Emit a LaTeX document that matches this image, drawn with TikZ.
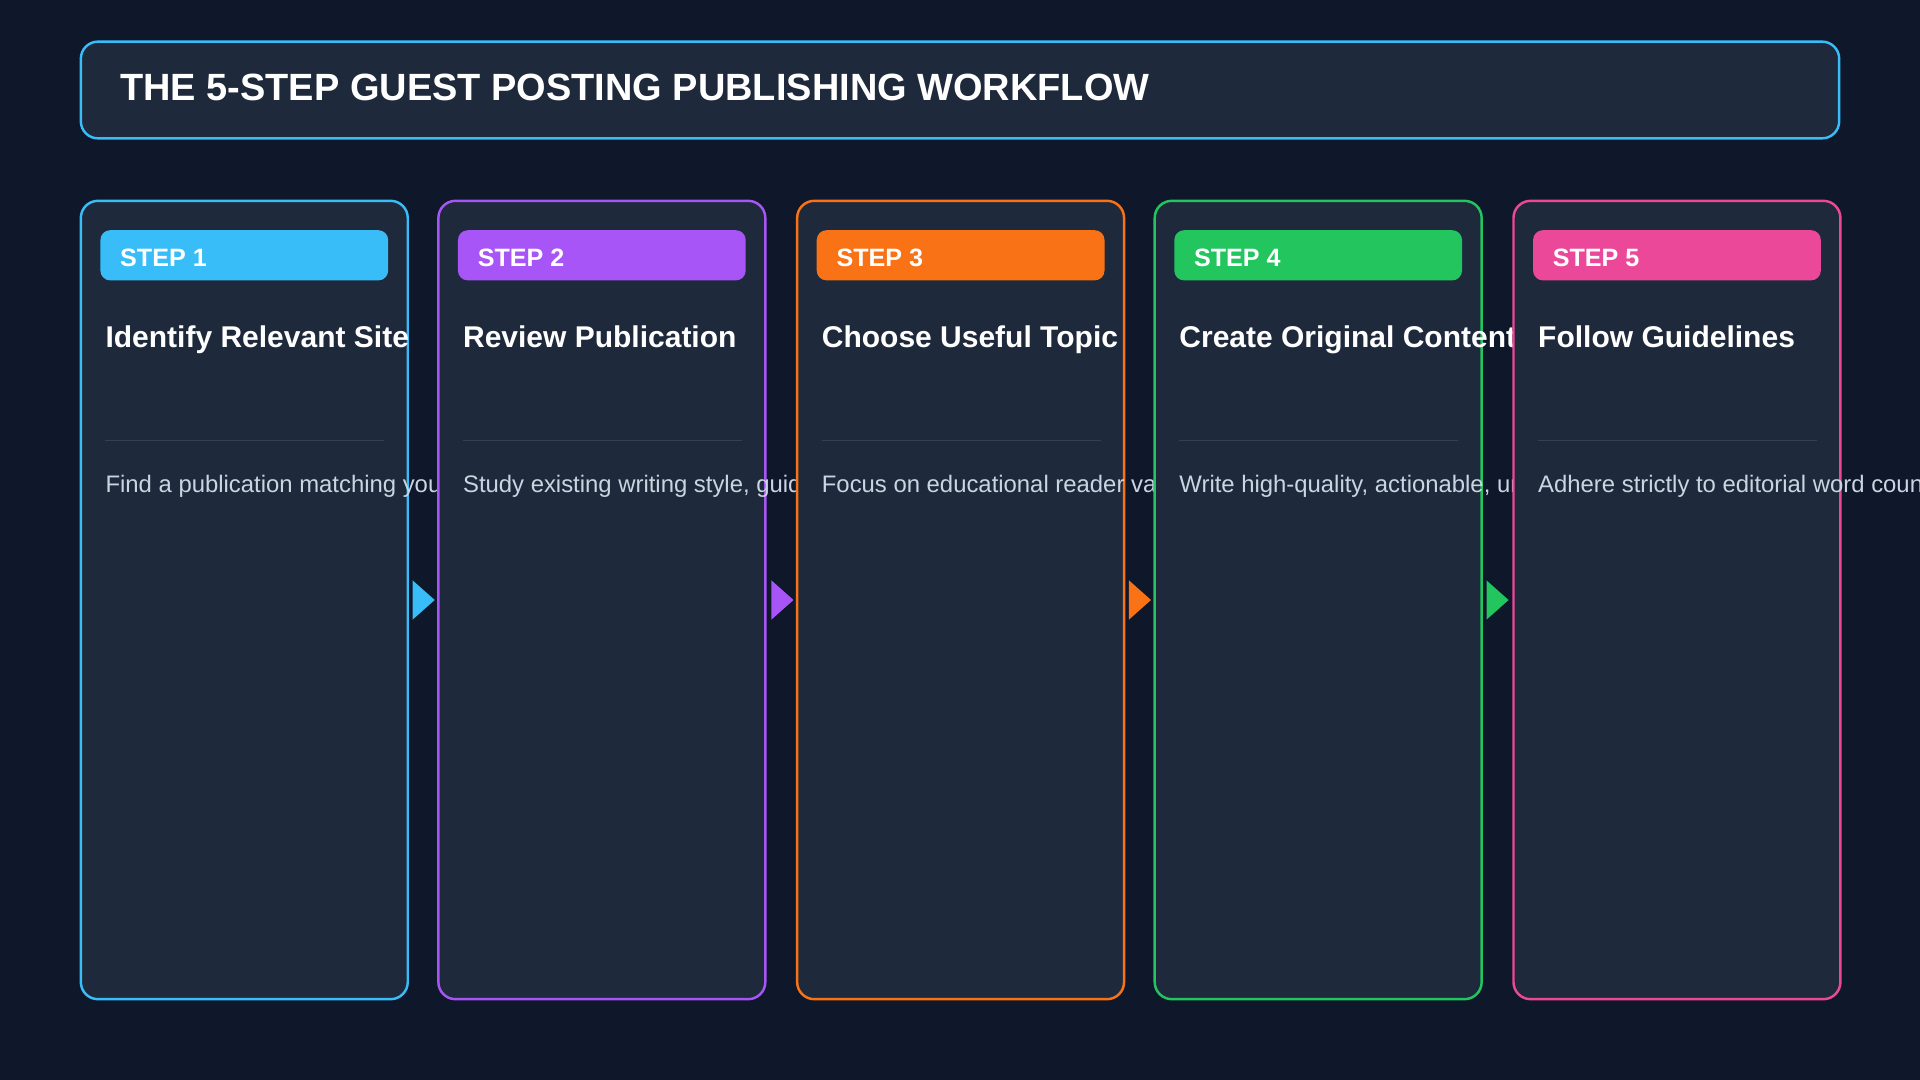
\documentclass[tikz,border=0pt]{standalone}
\usepackage{fontspec}
\setmainfont{Liberation Sans}
\definecolor{bg}{HTML}{0F172A}
\definecolor{panel}{HTML}{1E293B}
\definecolor{divc}{HTML}{334155}
\definecolor{desc}{HTML}{CBD5E1}
\definecolor{cA}{HTML}{38BDF8}
\definecolor{cB}{HTML}{A855F7}
\definecolor{cC}{HTML}{F97316}
\definecolor{cD}{HTML}{22C55E}
\definecolor{cE}{HTML}{EC4899}
\begin{document}
\begin{tikzpicture}[x={(1pt,0)},y={(0,-1pt)},
  card/.style={draw=#1,line width=2pt,fill=panel,rounded corners=14pt},
  badge/.style={fill=#1,rounded corners=8pt},
  lbl/.style={anchor=base west,inner sep=0,text=white,font=\fontsize{20.5}{22}\selectfont\bfseries},
  head/.style={anchor=base west,inner sep=0,text=white,font=\fontsize{24.5}{26}\selectfont\bfseries},
  dsc/.style={anchor=base west,inner sep=0,text=desc,font=\fontsize{19.5}{22}\selectfont}]
\fill[bg] (0,0) rectangle (1568,882);
\useasboundingbox (0,0) rectangle (1568,882);
\draw[card=cA] (66,34) rectangle (1502,113);
\node[anchor=base west,inner sep=0,text=white,font=\fontsize{31}{33}\selectfont\bfseries] (title) at (98,82) {THE 5-STEP GUEST POSTING PUBLISHING WORKFLOW};
\foreach \i/\x/\nx/\c/\h/\d in {
 1/66/358/cA/Identify Relevant Site/Find a publication matching your niche,
 2/358/651/cB/Review Publication/{Study existing writing style, guidelines},
 3/651/943/cC/Choose Useful Topic/{Focus on educational reader value},
 4/943/1236/cD/Create Original Content/{Write high-quality, actionable, unique},
 5/1236/1568/cE/Follow Guidelines/{Adhere strictly to editorial word count}}{
  \draw[card=\c] (\x,164) rectangle ({\x+267},816);
  \fill[badge=\c] ({\x+16},188) rectangle ({\x+251},229);
  \node[lbl] (s\i) at ({\x+32},218) {STEP \i};
  \draw[divc,line width=1pt] ({\x+20},360) -- ({\x+248},360);
  \begin{scope}
   \clip (\x,150) rectangle (\nx,830);
   \node[head] (h\i) at ({\x+20},284) {\h};
   \node[dsc] (d\i) at ({\x+20},402) {\d};
  \end{scope}
}
\foreach \x/\c in {337/cA,630/cB,922/cC,1214/cD}{
  \fill[\c] (\x,474) -- ({\x+18},490) -- (\x,506) -- cycle;
}
\end{tikzpicture}
\end{document}
